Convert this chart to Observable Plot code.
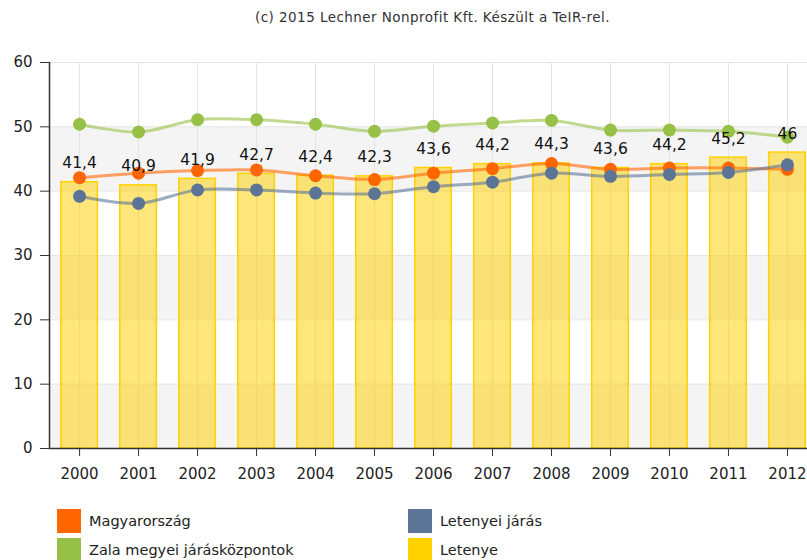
<!DOCTYPE html>
<html>
<head>
<meta charset="utf-8">
<script src="https://cdn.jsdelivr.net/npm/d3@7"></script>
<script src="https://cdn.jsdelivr.net/npm/@observablehq/plot@0.6"></script>
<style>
  html, body { margin: 0; padding: 0; background: #fff; overflow: hidden; }
  body { font-family: "DejaVu Sans", Verdana, sans-serif; color: #333; }
  #wrap { position: relative; width: 807px; height: 560px; }
  #title { position: absolute; left: 0; width: 865px; top: 9px; text-align: center; font-size: 13.5px; letter-spacing: 0.45px; color: #333; }
  #chart { position: absolute; left: 0; top: 30px; }
  .leg { position: absolute; display: flex; align-items: center; font-size: 14.5px; color: #222; }
  .leg .sw { width: 24px; height: 24px; margin-right: 8px; }
</style>
</head>
<body>
<div id="wrap">
  <div id="title">(c) 2015 Lechner Nonprofit Kft. Készült a TeIR-rel.</div>
  <div id="chart"></div>
  <div id="legend"></div>
</div>
<script>
const years = [2000, 2001, 2002, 2003, 2004, 2005, 2006, 2007, 2008, 2009, 2010, 2011, 2012];
const letenye = [41.4, 40.9, 41.9, 42.7, 42.4, 42.3, 43.6, 44.2, 44.3, 43.6, 44.2, 45.2, 46];
const magyarorszag = [42.1, 42.8, 43.2, 43.3, 42.4, 41.8, 42.8, 43.5, 44.3, 43.4, 43.6, 43.6, 43.4];
const letenyeiJaras = [39.2, 38.1, 40.2, 40.2, 39.7, 39.6, 40.7, 41.4, 42.8, 42.3, 42.6, 42.9, 44.1];
const zala = [50.4, 49.2, 51.1, 51.1, 50.4, 49.3, 50.1, 50.6, 51.0, 49.5, 49.5, 49.3, 48.4];
const yTicks = [0, 10, 20, 30, 40, 50, 60];
const seriesNames = ["Magyarország", "Letenyei járás", "Zala megyei járásközpontok", "Letenye"];
const seriesColors = ["#ff6600", "#5c7596", "#96c146", "#ffd200"];
const bands = [[0, 10], [20, 30], [40, 50]];

const rows = years.map((year, i) => ({
  year, letenye: letenye[i], magyar: magyarorszag[i], jaras: letenyeiJaras[i], zala: zala[i]
}));
const bandRows = bands.map(([a, b]) => ({a, b}));
const fmt = v => String(v).replace(".", ",");
const halfBar = 0.31;

const lineSeries = [
  {key: "magyar", color: seriesColors[0]},
  {key: "zala", color: seriesColors[2]},
  {key: "jaras", color: seriesColors[1]}
];

const marks = [
  Plot.rect(bandRows, {x1: 1999.49, x2: 2012.34, y1: "a", y2: "b", fill: "#f4f4f4"}),
  Plot.gridX(years, {stroke: "#e3e3e3", strokeOpacity: 1}),
  Plot.gridY(yTicks, {stroke: "#e6e6e6", strokeOpacity: 1}),
  Plot.rectY(rows, {x1: d => d.year - halfBar, x2: d => d.year + halfBar, y: "letenye",
    fill: "#ffd000", fillOpacity: 0.52, stroke: seriesColors[3], strokeWidth: 1.5}),
];
for (const s of lineSeries) {
  marks.push(Plot.line(rows, {x: "year", y: s.key, stroke: s.color, strokeWidth: 3, strokeOpacity: 0.6, curve: "catmull-rom"}));
  marks.push(Plot.dot(rows, {x: "year", y: s.key, fill: s.color, r: 6.5}));
}
marks.push(
  Plot.axisY(yTicks, {tickSize: 9, tickPadding: 8, fontSize: 15, stroke: "#333", fill: "#222", label: null}),
  Plot.axisX(years, {tickSize: 8, tickPadding: 12, fontSize: 15, stroke: "#333", fill: "#222", label: null, tickFormat: d => String(d)}),
  Plot.ruleX([1999.49], {stroke: "#333", strokeWidth: 1.5}),
  Plot.ruleY([0], {stroke: "#333", strokeWidth: 1.5}),
  Plot.text(rows, {x: "year", y: "letenye", text: d => fmt(d.letenye), dy: -19, fontSize: 15.5, fill: "#111"})
);

const chart = Plot.plot({
  width: 807,
  height: 460,
  marginLeft: 49,
  marginRight: 0,
  marginTop: 32,
  marginBottom: 42,
  style: {fontFamily: "DejaVu Sans, Verdana, sans-serif", background: "transparent"},
  x: {type: "linear", domain: [1999.49, 2012.34], axis: null},
  y: {domain: [0, 60], axis: null},
  marks
});
document.getElementById("chart").appendChild(chart);

const legendPos = [
  {left: 57, top: 509}, {left: 408, top: 509},
  {left: 57, top: 538}, {left: 408, top: 538}
];
const legend = document.getElementById("legend");
seriesNames.forEach((name, i) => {
  const el = document.createElement("div");
  el.className = "leg";
  el.style.left = legendPos[i].left + "px";
  el.style.top = legendPos[i].top + "px";
  el.innerHTML = `<div class="sw" style="background:${seriesColors[i]}"></div><span>${name}</span>`;
  legend.appendChild(el);
});
</script>
</body>
</html>
